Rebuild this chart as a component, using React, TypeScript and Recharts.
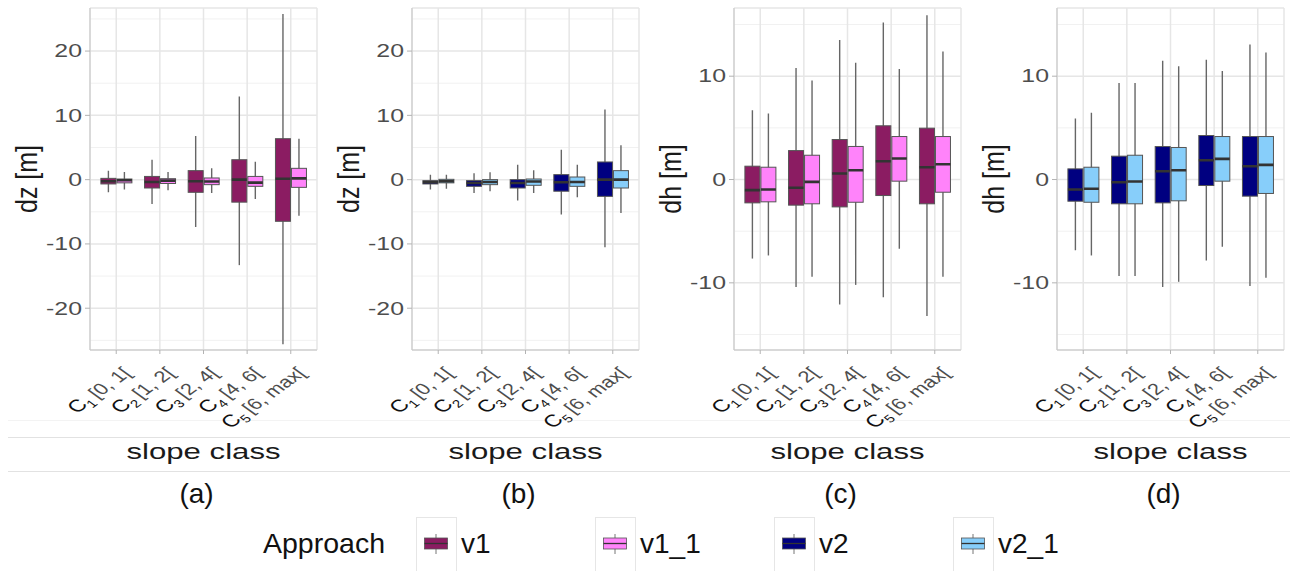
import React from 'react'
import { ComposedChart, Bar, XAxis, YAxis, CartesianGrid } from 'recharts'

const FONT = "'Liberation Sans', Arial, Helvetica, sans-serif"
// the source figure is stretched sideways, text is drawn the same way
const STRETCH = 1.38

const classIds = ['1', '2', '3', '4', '5']
const classRanges = ['[0, 1[', '[1, 2[', '[2, 4[', '[4, 6[', '[6, max[']

const approachNames = ['v1', 'v1_1', 'v2', 'v2_1']
const approachColors = ['#8B1C62', '#FF83FA', '#000080', '#87CEFA']
const panelTags = ['(a)', '(b)', '(c)', '(d)']

const dzTicks = [-20, -10, 0, 10, 20]
const dzMinor = [-25, -15, -5, 5, 15, 25]
const dhTicks = [-10, 0, 10]
const dhMinor = [-15, -5, 5, 15]

// each row: [lower whisker, Q1, median, Q3, upper whisker] for C1..C5
const dzV1 = [
  [-1.97, -0.67, -0.26, 0.2, 1.4],
  [-3.8, -1.3, -0.36, 0.5, 3.1],
  [-7.36, -1.97, -0.26, 1.4, 6.8],
  [-13.3, -3.5, 0, 3.1, 12.95],
  [-25.6, -6.48, 0.15, 6.37, 25.75],
]
const dzV1_1 = [
  [-1.55, -0.5, -0.1, 0.1, 1.2],
  [-1.65, -0.6, -0.15, 0.15, 1.2],
  [-2.07, -0.78, -0.3, 0.26, 1.76],
  [-3.0, -1.04, -0.47, 0.5, 2.8],
  [-5.6, -1.2, 0.2, 1.76, 6.37],
]
const dzV2 = [
  [-1.55, -0.67, -0.4, -0.15, 0.78],
  [-2.07, -1.04, -0.52, -0.15, 1.0],
  [-3.26, -1.3, -0.52, 0, 2.33],
  [-5.44, -1.8, -0.41, 0.78, 4.66],
  [-10.5, -2.6, 0, 2.75, 10.9],
]
const dzV2_1 = [
  [-1.4, -0.5, -0.26, 0.05, 0.78],
  [-1.8, -0.78, -0.36, 0, 1.14],
  [-2.07, -0.88, -0.3, 0.1, 1.45],
  [-2.75, -1.04, -0.36, 0.41, 2.33],
  [-5.18, -1.3, 0, 1.4, 5.34],
]
const dhV1 = [
  [-7.65, -2.26, -1.03, 1.29, 6.7],
  [-10.4, -2.48, -0.8, 2.8, 10.8],
  [-12.1, -2.65, 0.58, 3.87, 13.5],
  [-11.4, -1.55, 1.77, 5.2, 15.2],
  [-13.2, -2.35, 1.19, 4.97, 15.9],
]
const dhV1_1 = [
  [-7.35, -2.16, -0.97, 1.19, 6.39],
  [-9.4, -2.35, -0.23, 2.35, 9.58],
  [-10.2, -2.2, 0.9, 3.2, 11.3],
  [-6.7, -0.16, 2.03, 4.16, 10.7],
  [-9.4, -1.23, 1.48, 4.16, 12.4],
]
const dhV2 = [
  [-6.84, -2.1, -0.97, 1.03, 5.9],
  [-9.35, -2.35, -0.26, 2.26, 9.35],
  [-10.4, -2.26, 0.8, 3.19, 11.5],
  [-7.84, -0.58, 1.87, 4.26, 11.6],
  [-10.3, -1.61, 1.29, 4.16, 13.06],
]
const dhV2_1 = [
  [-7.35, -2.2, -0.9, 1.19, 6.45],
  [-9.35, -2.35, -0.19, 2.35, 9.35],
  [-9.9, -2.06, 0.9, 3.1, 10.97],
  [-6.5, -0.16, 2.0, 4.16, 10.5],
  [-9.5, -1.35, 1.42, 4.16, 12.3],
]

const panels = [
  { yLabel: 'dz [m]', domain: [-26.5, 26.7], ticks: dzTicks, minor: dzMinor, series: [[0, dzV1], [1, dzV1_1]] },
  { yLabel: 'dz [m]', domain: [-26.5, 26.7], ticks: dzTicks, minor: dzMinor, series: [[2, dzV2], [3, dzV2_1]] },
  { yLabel: 'dh [m]', domain: [-16.5, 16.6], ticks: dhTicks, minor: dhMinor, series: [[0, dhV1], [1, dhV1_1]] },
  { yLabel: 'dh [m]', domain: [-16.5, 16.6], ticks: dhTicks, minor: dhMinor, series: [[2, dhV2], [3, dhV2_1]] },
] as { yLabel: string; domain: number[]; ticks: number[]; minor: number[]; series: [number, number[][]][] }[]

const panelLefts = [0, 322, 644, 967]
const PLOT_LEFT = 90
const PLOT_W = 227
const BORDER = '#c6c6c6'

function BoxShape(props: any) {
  const { x, y, width, height, stats, fill } = props
  if (!stats || x == null || y == null) return null
  const [lo, q1, med, q3, hi] = stats
  const top = Math.min(y, y + height)
  const bottom = Math.max(y, y + height)
  const px = (v: number) => (hi === lo ? top : top + ((hi - v) / (hi - lo)) * (bottom - top))
  const cx = x + width / 2
  return (
    <g>
      <line x1={cx} x2={cx} y1={px(hi)} y2={px(lo)} stroke="#666" strokeWidth={1.4} />
      <rect x={x + 0.5} y={px(q3)} width={width - 1} height={Math.max(px(q1) - px(q3), 0.5)} fill={fill} stroke="#555" strokeWidth={1} />
      <line x1={x + 0.5} x2={x + width - 0.5} y1={px(med)} y2={px(med)} stroke="#333" strokeWidth={2.6} />
    </g>
  )
}

function ValueTick(props: any) {
  const { x, y, payload } = props
  return (
    <g transform={`translate(${x},${y}) scale(${STRETCH},1)`}>
      <text textAnchor="end" dy="0.35em" fontSize={18} fontFamily={FONT} fill="#4d4d4d">
        {payload.value}
      </text>
    </g>
  )
}

function ClassTick(props: any) {
  const { x, y, payload } = props
  const i = classIds.indexOf(String(payload.value))
  return (
    <g transform={`translate(${x + 16},${y + 18}) scale(${STRETCH},1) rotate(-45)`}>
      <text textAnchor="end" fontSize={16} fontFamily={FONT}>
        <tspan fill="#111" fontSize={17}>C</tspan>
        <tspan fill="#111" fontSize={11} dy={4}>{classIds[i]}</tspan>
        <tspan fill="#4d4d4d" dy={-4} dx={3}>{classRanges[i]}</tspan>
      </text>
    </g>
  )
}

function AxisTitle(props: any) {
  const vb = props.viewBox || { x: 0, y: 8, width: 90, height: 342 }
  const cx = vb.x + 26
  const cy = vb.y + vb.height / 2
  return (
    <g transform={`translate(${cx},${cy}) scale(1.2,1) rotate(-90)`}>
      <text textAnchor="middle" dy="0.35em" fontSize={25} fontFamily={FONT} fill="#1a1a1a">
        {props.text}
      </text>
    </g>
  )
}

function BoxPanel({ left, panel }: { left: number; panel: (typeof panels)[number] }) {
  const data = classIds.map((id, i) => {
    const row: any = { cls: id }
    panel.series.forEach(([, stats], k) => {
      row[`s${k}`] = [stats[i][0], stats[i][4]]
      row[`s${k}stats`] = stats[i]
    })
    return row
  })
  return (
    <div style={{ position: 'absolute', left, top: 0 }}>
      <ComposedChart
        width={PLOT_LEFT + PLOT_W + 5}
        height={440}
        data={data}
        margin={{ top: 8, right: 5, bottom: 0, left: 0 }}
        barGap={0}
        barSize={16}
      >
        <CartesianGrid horizontalValues={panel.minor} vertical={false} stroke="#f1f1f1" strokeWidth={1} />
        <CartesianGrid stroke="#e6e6e6" strokeWidth={1.5} />
        <XAxis
          dataKey="cls"
          height={90}
          interval={0}
          padding={{ left: 4.4, right: 4.4 }}
          tick={<ClassTick />}
          tickSize={4}
          tickLine={{ stroke: '#b3b3b3' }}
          axisLine={{ stroke: BORDER }}
        />
        <XAxis xAxisId="top" dataKey="cls" orientation="top" height={0} tick={false} tickLine={false} axisLine={{ stroke: BORDER }} />
        <YAxis
          type="number"
          domain={panel.domain}
          ticks={panel.ticks}
          allowDataOverflow
          width={PLOT_LEFT}
          tick={<ValueTick />}
          tickSize={5}
          tickMargin={3}
          tickLine={{ stroke: '#b3b3b3' }}
          axisLine={{ stroke: BORDER }}
          label={<AxisTitle text={panel.yLabel} />}
        />
        <YAxis yAxisId="right" orientation="right" width={0} tick={false} tickLine={false} axisLine={{ stroke: BORDER }} />
        {panel.series.map(([ai], k) => (
          <Bar
            key={k}
            dataKey={`s${k}`}
            isAnimationActive={false}
            shape={(p: any) => <BoxShape {...p} stats={p.payload[`s${k}stats`]} fill={approachColors[ai]} />}
          />
        ))}
      </ComposedChart>
    </div>
  )
}

export default function App() {
  const keyLefts = approachNames.map((_, i) => 416 + i * 179)
  return (
    <div style={{ position: 'absolute', left: 0, top: 0, width: 1290, height: 571, background: '#fff', overflow: 'hidden' }}>
      <svg width={1290} height={571} style={{ position: 'absolute', left: 0, top: 0 }} fontFamily={FONT}>
        <line x1={8} x2={1290} y1={420.5} y2={420.5} stroke="#f3f3f3" />
        <line x1={8} x2={1290} y1={437.5} y2={437.5} stroke="#e2e2e2" />
        <line x1={8} x2={1290} y1={471.5} y2={471.5} stroke="#e2e2e2" />
        {panelLefts.map((l, i) => {
          const cx = l + PLOT_LEFT + PLOT_W / 2
          return (
            <g key={i}>
              <g transform={`translate(${cx},459) scale(1.45,1)`}>
                <text textAnchor="middle" fontSize={21.5} fill="#1a1a1a">slope class</text>
              </g>
              <text x={cx - 7} y={503} textAnchor="middle" fontSize={28} fill="#111">{panelTags[i]}</text>
            </g>
          )
        })}
        <text x={263} y={553} fontSize={28.5} fill="#111">Approach</text>
        {approachNames.map((name, i) => {
          const kx = keyLefts[i]
          const c = kx + 20
          return (
            <g key={name}>
              <rect x={kx + 0.5} y={517.5} width={40} height={70} fill="#fff" stroke="#e6e6e6" />
              <line x1={c} x2={c} y1={534} y2={554} stroke="#777" strokeWidth={1} />
              <rect x={c - 11.5} y={538} width={23} height={11} fill={approachColors[i]} stroke="#555" strokeWidth={0.8} />
              <line x1={c - 11.5} x2={c + 11.5} y1={543.5} y2={543.5} stroke="#333" strokeWidth={1.3} />
              <text x={kx + 45} y={553} fontSize={28} fill="#111">{name}</text>
            </g>
          )
        })}
      </svg>
      {panels.map((p, i) => (
        <BoxPanel key={i} left={panelLefts[i]} panel={p} />
      ))}
    </div>
  )
}
